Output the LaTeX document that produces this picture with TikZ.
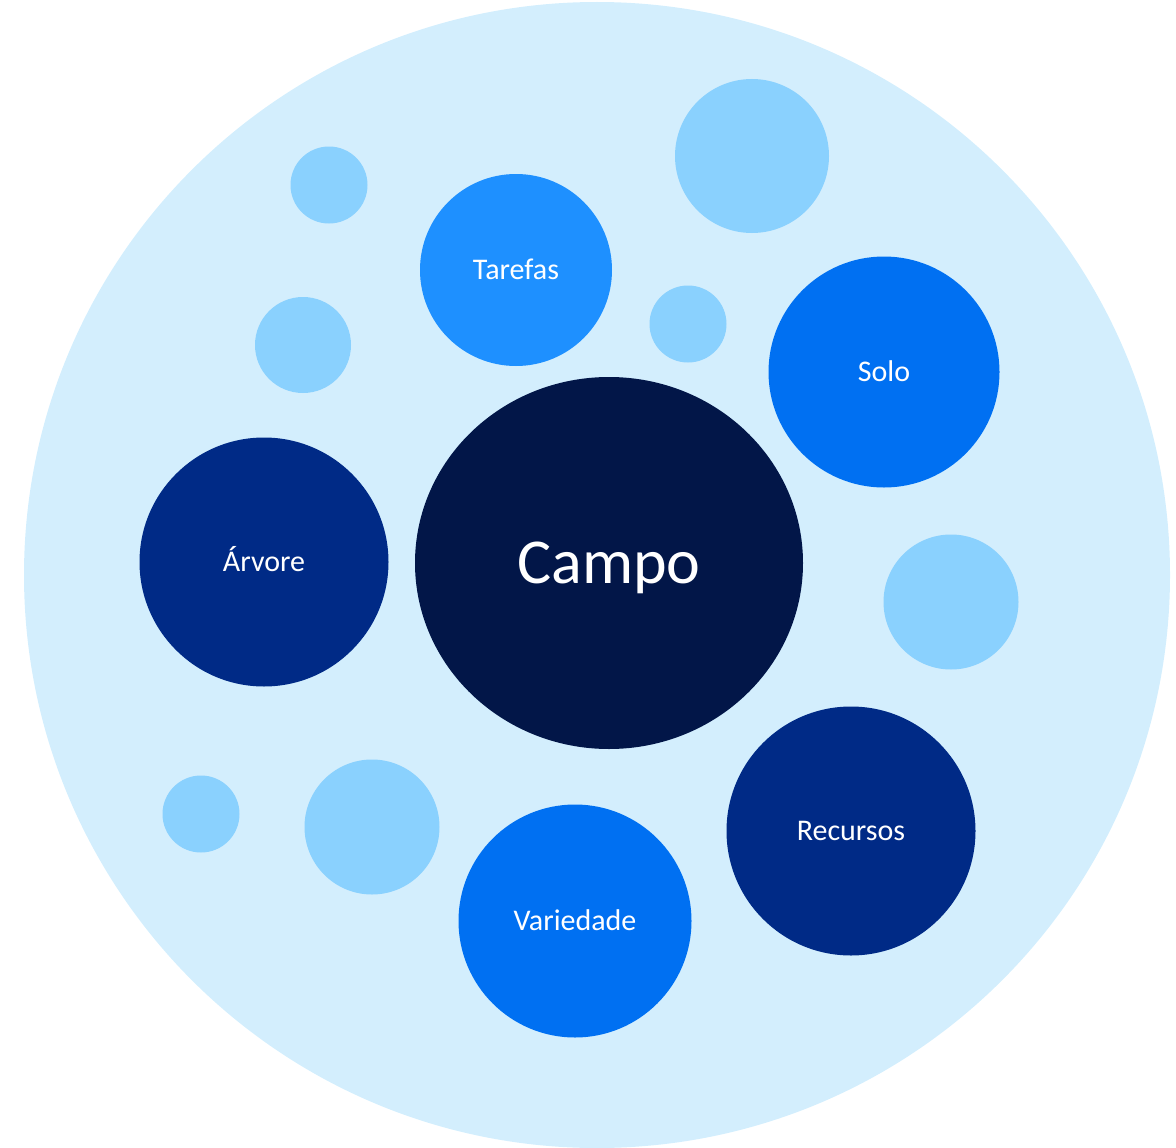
\documentclass[tikz,border=0pt]{standalone}
\usepackage{fontspec}
\setmainfont{Carlito}
\usetikzlibrary{shapes.geometric}
\definecolor{bgc}{HTML}{D3EEFD}
\definecolor{lightc}{HTML}{8AD1FE}
\definecolor{midc}{HTML}{1E90FF}
\definecolor{brightc}{HTML}{0070F2}
\definecolor{navyc}{HTML}{002A86}
\definecolor{darkc}{HTML}{021648}
\tikzset{
  bub/.style={circle, inner sep=0pt, draw=none, text=white, font=\fontsize{30}{34}\selectfont, text height=19pt, text depth=0pt},
  deco/.style={circle, inner sep=0pt, draw=none, fill=lightc},
}
\begin{document}
\begin{tikzpicture}[x=1pt,y=-1pt]
\useasboundingbox (0,0) rectangle (1176,1148);
\node[circle, fill=bgc, minimum size=1146pt, inner sep=0pt] (bg) at (597,575) {};
\node[ellipse, fill=darkc, text=white, minimum width=388pt, minimum height=372pt, inner sep=0pt, font=\fontsize{64}{70}\selectfont, text height=41pt, text depth=0pt] (campo) at (609,563) {Campo};
\node[bub, fill=midc, minimum size=192pt] (tarefas) at (516,270) {Tarefas};
\node[bub, fill=brightc, minimum size=231pt] (solo) at (884,372) {Solo};
\node[bub, fill=navyc, minimum size=249pt] (arvore) at (264,562) {Árvore};
\node[bub, fill=navyc, minimum size=249pt] (recursos) at (851,831) {Recursos};
\node[bub, fill=brightc, minimum size=233pt] (variedade) at (575,921) {Variedade};
\node[deco, minimum size=154pt] (d1) at (752,156) {};
\node[deco, minimum size=77pt] (d2) at (329,185) {};
\node[deco, minimum size=96pt] (d3) at (303,345) {};
\node[deco, minimum size=77pt] (d4) at (688,324) {};
\node[deco, minimum size=135pt] (d5) at (951,602) {};
\node[deco, minimum size=77pt] (d6) at (201,814) {};
\node[deco, minimum size=135pt] (d7) at (372,827) {};
\end{tikzpicture}
\end{document}
